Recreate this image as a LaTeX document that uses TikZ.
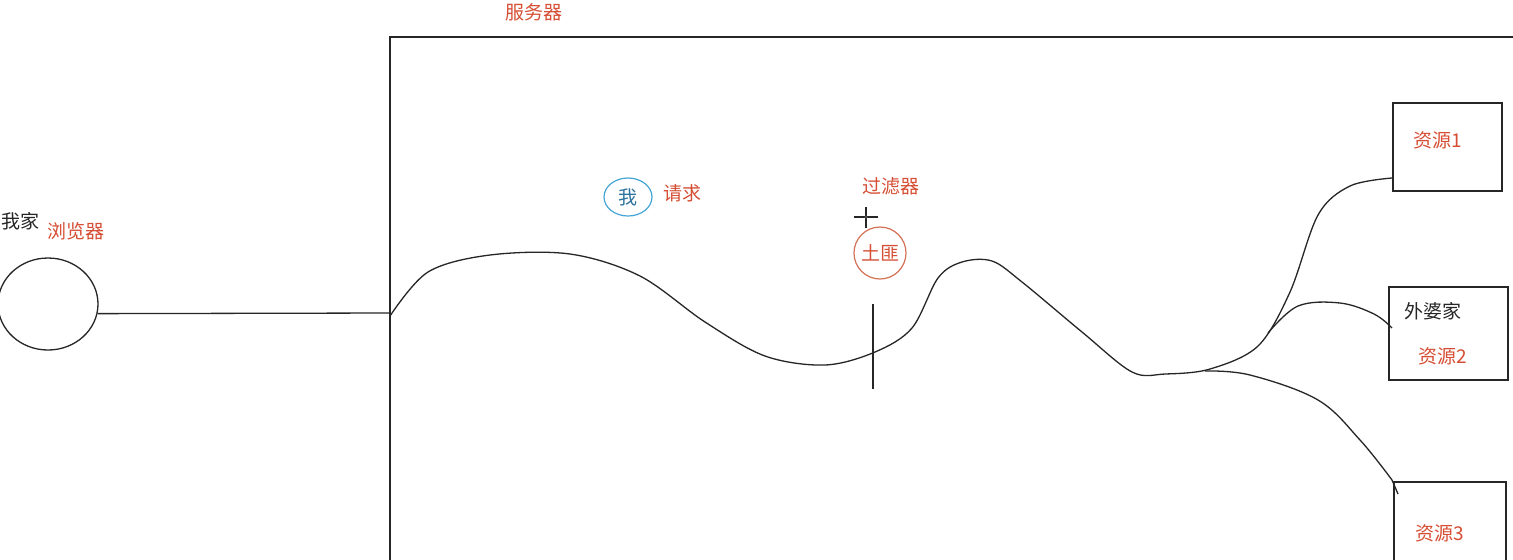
\documentclass[tikz,border=0pt]{standalone}
\usepackage{fontspec}
\usetikzlibrary{shapes.geometric}
\newfontfamily\cjk{Noto Sans CJK SC}
\definecolor{tred}{RGB}{214,78,52}
\definecolor{cblue}{RGB}{70,165,215}
\definecolor{tblue}{RGB}{45,115,160}
\definecolor{corange}{RGB}{212,112,85}
\begin{document}
\begin{tikzpicture}[x=0.5pt,y=-0.5pt,
  lab/.style={font=\cjk\fontsize{9.5}{11}\selectfont, inner sep=0pt},
  redlab/.style={lab, text=tred},
  blklab/.style={lab, text=black!85},
  ln/.style={line width=0.65pt, black!85},
  box/.style={draw=black!85, line width=0.65pt, inner sep=0pt}]
\fill[white] (0,0) rectangle (1513,559);
\useasboundingbox (0,0) rectangle (1513,559);
\begin{scope}
\clip (0,0) rectangle (1513,559);
% server frame
\draw[ln] (390,580) -- (390,37) -- (1520,37);
\node[redlab] (srv) at (534,12) {服务器};
% browser
\node[draw=black!85, line width=0.65pt, ellipse, minimum width=50pt, minimum height=46pt, inner sep=0pt] (br) at (48,304) {};
\node[blklab] (home) at (21,221) {我家};
\node[redlab] (brl) at (76,231) {浏览器};
\coordinate (edge) at (390,313);
\draw[ln] (br.-11) -- (edge);
% main path
\draw[ln] plot[smooth, tension=0.55] coordinates {(390,316) (428,272) (490,255) (570,254) (640,276) (705,322) (765,356) (825,365) (875,352) (912,328) (938,278) (962,262) (992,261) (1022,282) (1082,332) (1132,372) (1165,374) (1210,369) (1258,346) (1290,292) (1318,215) (1350,186) (1392,178)};
% branch to box 2
\draw[ln] plot[smooth, tension=0.6] coordinates {(1268,333) (1298,306) (1340,303) (1374,314) (1392,328)};
% branch to box 3
\draw[ln] plot[smooth, tension=0.6] coordinates {(1205,371) (1250,375) (1318,400) (1360,440) (1392,480)};
\draw[ln] (1392,480) -- (1398,494);
% filter bar
\node[inner sep=0pt] (barT) at (873,303) {};
\node[inner sep=0pt] (barB) at (873,390) {};
\draw[ln] (barT) -- (barB);
% crosshair
\draw[line width=0.7pt, black!85] (854,217) -- (878,217) (866,207) -- (866,228);
\draw[black!70, line width=0.4pt] (866,217) circle (1.2);
% filter label and bandit
\node[redlab] (fl) at (891,186) {过滤器};
\node[draw=corange, line width=0.6pt, circle, minimum size=26pt, inner sep=0pt, text=tred, font=\cjk\fontsize{9.5}{11}\selectfont] (bandit) at (880,253) {土匪};
% me
\node[draw=cblue, line width=0.6pt, ellipse, minimum width=24pt, minimum height=19pt, inner sep=0pt, text=tblue, font=\cjk\fontsize{9.5}{11}\selectfont] (me) at (628,197) {我};
\node[redlab] (req) at (682,193) {请求};
% resource boxes
\node[box, minimum width=54.5pt, minimum height=44pt] (b1) at (1447.5,147) {};
\node[redlab] at (1438,140) {资源1};
\node[box, minimum width=59.5pt, minimum height=46.5pt] (b2) at (1448.5,333.5) {};
\node[blklab] at (1433,311) {外婆家};
\node[redlab] at (1443,356) {资源2};
\node[box, minimum width=56pt, minimum height=59pt] (b3) at (1450,541) {};
\node[redlab] at (1440,533) {资源3};
\end{scope}
\end{tikzpicture}
\end{document}
